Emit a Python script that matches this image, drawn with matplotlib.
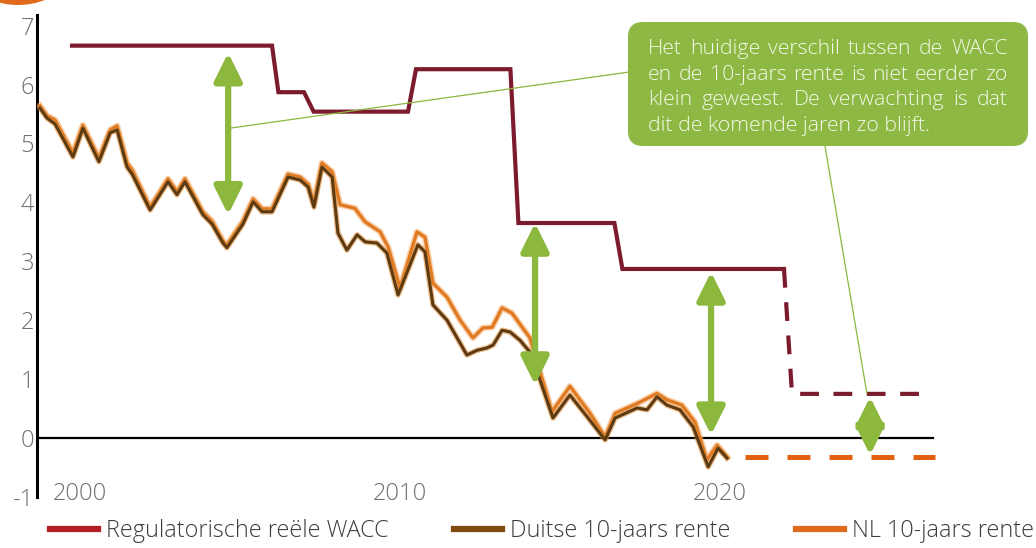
import numpy as np
import matplotlib.pyplot as plt
import matplotlib.patheffects as pe
from matplotlib.lines import Line2D
from matplotlib.patches import FancyBboxPatch, Circle
from matplotlib.transforms import IdentityTransform

plt.rcParams['font.family'] = ['Open Sans', 'DejaVu Sans']
plt.rcParams['axes.unicode_minus'] = False

# Regulatorische reele WACC (trap), gerealiseerd en verwacht
wacc_jaar = [1999.75, 2006.0, 2006.2, 2007.0, 2007.3, 2010.25, 2010.5, 2013.45, 2013.7,
             2016.7, 2016.95, 2022.0]
wacc = [6.66, 6.66, 5.87, 5.87, 5.54, 5.54, 6.26, 6.26, 3.65, 3.65, 2.87, 2.87]
wacc_verw_jaar = [2022.0, 2022.25, 2026.6]
wacc_verw = [2.87, 0.75, 0.75]

# Duitse 10-jaars rente
de_jaar = [1998.75, 1998.97, 1999.22, 1999.78, 2000.09, 2000.59, 2000.94, 2001.16, 2001.47,
           2001.63, 2002.19, 2002.75, 2003.03, 2003.28, 2003.84, 2004.13, 2004.47, 2004.59,
           2005.09, 2005.41, 2005.69, 2006.0, 2006.5, 2006.88, 2007.13, 2007.31, 2007.56,
           2007.88, 2008.06, 2008.34, 2008.66, 2008.91, 2009.28, 2009.59, 2009.94, 2010.56,
           2010.78, 2011.03, 2011.47, 2012.09, 2012.41, 2012.72, 2012.91, 2013.19, 2013.44,
           2013.75, 2014.06, 2014.38, 2014.78, 2015.31, 2015.88, 2016.41, 2016.72, 2017.41,
           2017.72, 2018.03, 2018.34, 2018.75, 2019.16, 2019.63, 2019.94, 2020.22]
de_rente = [5.60, 5.43, 5.33, 4.77, 5.26, 4.69, 5.18, 5.23, 4.60,
            4.48, 3.87, 4.35, 4.13, 4.35, 3.79, 3.63, 3.31, 3.23,
            3.63, 4.01, 3.84, 3.84, 4.43, 4.38, 4.26, 3.92, 4.60,
            4.43, 3.48, 3.19, 3.45, 3.33, 3.31, 3.14, 2.43, 3.28,
            3.16, 2.26, 2.00, 1.41, 1.49, 1.53, 1.58, 1.83, 1.80,
            1.66, 1.46, 0.98, 0.34, 0.73, 0.34, -0.03, 0.34, 0.51,
            0.48, 0.70, 0.56, 0.48, 0.19, -0.49, -0.17, -0.34]

# NL 10-jaars rente
nl_jaar = [1998.75, 1998.97, 1999.22, 1999.78, 2000.09, 2000.59, 2000.94, 2001.16, 2001.47,
           2001.63, 2002.19, 2002.75, 2003.03, 2003.28, 2003.84, 2004.13, 2004.47, 2004.59,
           2005.09, 2005.41, 2005.69, 2006.0, 2006.5, 2006.88, 2007.13, 2007.31, 2007.56,
           2007.88, 2008.13, 2008.59, 2008.91, 2009.38, 2009.63, 2010.0, 2010.53, 2010.78,
           2011.03, 2011.47, 2011.88, 2012.28, 2012.59, 2012.88, 2013.19, 2013.5, 2014.06,
           2014.75, 2015.31, 2015.94, 2016.41, 2016.72, 2017.5, 2018.03, 2018.34, 2018.81,
           2019.22, 2019.59, 2019.91, 2020.22]
nl_rente = [5.64, 5.47, 5.40, 4.84, 5.31, 4.75, 5.23, 5.30, 4.67,
            4.55, 3.92, 4.40, 4.18, 4.40, 3.84, 3.68, 3.34, 3.28,
            3.68, 4.06, 3.89, 3.89, 4.48, 4.43, 4.31, 3.99, 4.67,
            4.52, 3.96, 3.90, 3.67, 3.50, 3.24, 2.55, 3.50, 3.41,
            2.63, 2.39, 2.00, 1.70, 1.87, 1.88, 2.21, 2.12, 1.70,
            0.45, 0.88, 0.42, 0.02, 0.42, 0.61, 0.76, 0.65, 0.56,
            0.27, -0.37, -0.12, -0.32]
nl_verw_jaar = [2020.78, 2026.72]
nl_verw = [-0.32, -0.32]

# groene pijlen: (jaar, onder, boven)
pijlen = [(2004.63, 3.79, 6.54), (2014.22, 0.90, 3.65), (2019.72, 0.05, 2.82), (2024.69, -0.29, 0.70)]

y_ticks = list(range(-1, 8))
x_ticks = [2000, 2010, 2020]
labels = ['Regulatorische reële WACC', 'Duitse 10-jaars rente', 'NL 10-jaars rente']
callout = ['Het huidige verschil tussen de WACC',
           'en de 10-jaars rente is niet eerder zo',
           'klein geweest. De verwachting is dat',
           'dit de komende jaren zo blijft.']

c_wacc = '#7b1b2d'
c_de = '#5c3a12'
c_nl = '#e07a22'
c_groen = '#8cb83e'
c_tekst = '#707070'

fig = plt.figure(figsize=(10.36, 5.48), dpi=100)
ax = fig.add_axes([37 / 1036, 51 / 548, 999 / 1036, 482 / 548])
ax.set_xlim(1998.656, 2029.875)
ax.set_ylim(-1.0, 7.18)

for s in ['top', 'right', 'bottom']:
    ax.spines[s].set_visible(False)
ax.spines['left'].set_linewidth(2.2)
ax.axhline(0, xmin=0, xmax=(933 - 37) / 999, color='black', lw=1.6, zorder=2)

ax.set_yticks(y_ticks)
ax.set_xticks(x_ticks)
ax.set_xticklabels([str(x) for x in x_ticks])
ax.tick_params(axis='y', length=0, pad=2, labelsize=17, labelcolor=c_tekst)
ax.tick_params(axis='x', length=0, pad=-11, labelsize=17, labelcolor=c_tekst)
for lab in ax.get_xticklabels() + ax.get_yticklabels():
    lab.set_fontweight('light')

# lijnen
ax.plot(wacc_jaar, wacc, color=c_wacc, lw=3, solid_joinstyle='miter', zorder=3)
ax.plot(wacc_verw_jaar, wacc_verw, color=c_wacc, lw=3, dashes=(4.5, 3.5), zorder=3)
ax.plot(nl_jaar, nl_rente, color=c_nl, lw=2.3, zorder=4,
        path_effects=[pe.Stroke(linewidth=4.5, foreground='#f6b070', alpha=0.6), pe.Normal()])
ax.plot(de_jaar, de_rente, color=c_de, lw=2.2, zorder=5,
        path_effects=[pe.Stroke(linewidth=4.0, foreground='#e08a30', alpha=0.55), pe.Normal()])
ax.plot(nl_verw_jaar, nl_verw, color='#e0600f', lw=3.6, dashes=(4.6, 3.8), zorder=3)

# verschil-pijlen
for x, y0, y1 in pijlen:
    ax.annotate('', xy=(x, y1), xytext=(x, y0),
                arrowprops=dict(arrowstyle='<|-|>,head_length=0.85,head_width=0.42',
                                mutation_scale=20, lw=4.5, color=c_groen,
                                shrinkA=0, shrinkB=0), zorder=6)

# verbindingslijnen naar het tekstvak
ax.plot([2004.69, 2017.13], [5.26, 6.21], color=c_groen, lw=0.9, zorder=6)
ax.plot([2023.28, 2024.59], [4.96, 0.76], color=c_groen, lw=0.9, zorder=6)

# tekstvak (pixelcoordinaten)
box = FancyBboxPatch((628, 548 - 146), 400, 124, boxstyle='round,pad=0,rounding_size=15',
                     transform=IdentityTransform(), facecolor='#8db843', edgecolor='none', zorder=7)
fig.add_artist(box)

renderer = fig.canvas.get_renderer()
x_links, breedte = 648, 360
basislijnen = [54, 80, 105, 131]
fs_vak = 15.3
for i, (regel, yb) in enumerate(zip(callout, basislijnen)):
    if i == len(callout) - 1:
        fig.text(x_links, 548 - yb, regel, transform=IdentityTransform(), va='baseline',
                 ha='left', fontsize=fs_vak, fontweight='light', color='#f5f9ea', zorder=8)
        continue
    woorden = regel.split()
    arts = [fig.text(0, 0, w, transform=IdentityTransform(), va='baseline', ha='left',
                     fontsize=fs_vak, fontweight='light', color='#f5f9ea', zorder=8) for w in woorden]
    br = [a.get_window_extent(renderer).width for a in arts]
    gat = (breedte - sum(br)) / (len(woorden) - 1)
    x = x_links
    for a, w in zip(arts, br):
        a.set_position((x, 548 - yb))
        x += w + gat

# oranje cirkel linksboven
fig.add_artist(Circle((18, 548 + 70), 75, transform=IdentityTransform(),
                      facecolor='#e06a1b', edgecolor='none'))

# legenda
handles = [Line2D([], [], color='#b22026', lw=4.5),
           Line2D([], [], color='#7f4a10', lw=4.5),
           Line2D([], [], color='#e06a1b', lw=4.5)]
leg = fig.legend(handles, labels, loc='center left', bbox_to_anchor=(50 / 1036, 1 - 531 / 548),
                 ncol=3, frameon=False, fontsize=16.8, handlelength=2.06, handletextpad=0.34,
                 columnspacing=2.8, borderpad=0, borderaxespad=0)
for t in leg.get_texts():
    t.set_color('#3c3c3c')
    t.set_fontweight('light')

fig.savefig('out.png', dpi=100)
